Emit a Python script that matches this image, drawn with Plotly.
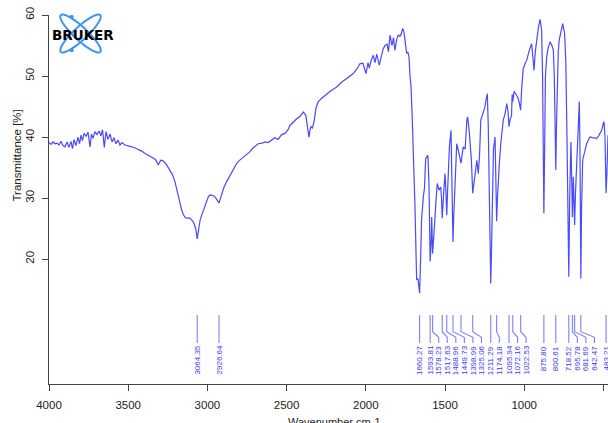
import math
import plotly.graph_objects as go

# FT-IR spectrum: wavenumber (cm-1) and transmittance (%)
wavenumber = [
    4000, 3987, 3975, 3962, 3949, 3937, 3924, 3912, 3899, 3886, 3874, 3861, 3852, 3842,
    3830, 3817, 3807, 3798, 3789, 3779, 3766, 3754, 3741, 3732, 3722, 3710, 3697, 3684,
    3672, 3662, 3651, 3640, 3628, 3615, 3602, 3590, 3577, 3564, 3552, 3539, 3520, 3501,
    3478, 3457, 3436, 3415, 3394, 3373, 3352, 3337, 3325, 3310, 3295, 3280, 3261, 3236,
    3220, 3205, 3194, 3184, 3173, 3162, 3152, 3141, 3125, 3110, 3099, 3089, 3080, 3072,
    3064.35, 3055, 3046, 3036, 3026, 3015, 3004, 2994, 2984, 2973, 2963, 2952, 2941,
    2926.64, 2918, 2909, 2895, 2878, 2864, 2847, 2832, 2815, 2801, 2783, 2763, 2731,
    2712, 2679, 2655, 2636, 2617, 2605, 2586, 2573, 2554, 2531, 2510, 2491, 2479, 2460,
    2436, 2415, 2395, 2379, 2371, 2359, 2352, 2346, 2337, 2327, 2314, 2300, 2277, 2247,
    2220, 2184, 2157, 2121, 2100, 2079, 2055, 2037, 2018, 2008, 1999, 1986, 1978, 1967,
    1953, 1942, 1931, 1915, 1901, 1891, 1879, 1866, 1857, 1847, 1835, 1825, 1816, 1805,
    1795, 1784, 1775, 1767, 1759, 1749, 1742, 1734, 1727, 1721, 1715, 1708, 1700, 1696,
    1690, 1683, 1679, 1671, 1664, 1660.27, 1652, 1648, 1637, 1630, 1622, 1608, 1601,
    1593.81, 1588, 1584, 1578.23, 1572, 1563, 1557, 1549, 1538, 1527, 1522, 1517.63,
    1507, 1500, 1494, 1488.96, 1484, 1479, 1472, 1462, 1456, 1449.73, 1445, 1437, 1426,
    1414, 1405, 1398.99, 1385, 1373, 1362, 1357, 1346, 1339, 1333, 1325.06, 1319, 1313,
    1299, 1290, 1282, 1274, 1259, 1248, 1242, 1233, 1227, 1220, 1216, 1211.29, 1206,
    1200, 1194, 1184, 1179, 1174.18, 1169, 1163, 1156, 1148, 1140, 1132, 1121, 1110,
    1102, 1095.94, 1088, 1080, 1076, 1072.16, 1064, 1052, 1040, 1030, 1022.53, 1016,
    1006, 995, 984, 970, 953, 945, 938, 930, 921, 910, 900, 890, 884, 880, 875.80, 871,
    866, 858, 850, 837, 825, 816, 810, 805, 800.61, 796, 790, 785, 779, 768, 757, 745,
    737, 730, 724, 718.52, 713, 705, 700, 695.78, 690, 685, 681.69, 676, 665, 658, 652,
    648, 645, 642.47, 638, 631, 618, 606, 595, 585, 570, 555, 542, 530, 520, 511, 500,
    496, 490, 486, 483.21, 478, 474, 471,
]
transmittance = [
    39.1, 38.8, 39.2, 38.9, 39.0, 38.7, 39.3, 38.6, 38.4, 39.2, 38.3, 39.3, 38.1, 39.6,
    38.6, 40.0, 38.9, 40.3, 39.4, 40.6, 40.1, 40.8, 38.4, 40.5, 39.8, 40.9, 40.4, 41.0,
    40.2, 41.2, 38.3, 40.9, 39.6, 40.5, 39.2, 39.9, 38.9, 39.5, 38.7, 39.1, 38.7, 38.6,
    38.4, 38.2, 38.0, 37.7, 37.3, 37.0, 36.8, 36.5, 36.2, 35.4, 36.2, 36.1, 35.6, 34.6,
    33.8, 32.7, 31.5, 30.2, 29.0, 28.0, 27.3, 26.8, 26.7, 26.7, 26.4, 26.1, 25.5, 24.8,
    23.3, 25.4, 26.4, 27.2, 28.0, 28.8, 29.6, 30.2, 30.5, 30.5, 30.4, 30.2, 29.8,
    29.2, 29.9, 30.8, 31.8, 32.7, 33.4, 34.0, 34.9, 35.7, 36.1, 36.5, 37.0, 37.6,
    38.2, 38.9, 39.0, 39.2, 39.1, 39.3, 39.7, 39.9, 39.6, 40.4, 40.6, 41.2, 41.9, 42.4,
    43.0, 43.4, 44.1, 43.6, 42.0, 40.0, 41.2, 41.7, 41.5, 42.5, 44.8, 45.8, 46.4, 47.1,
    47.6, 48.2, 48.9, 49.6, 50.0, 50.4, 51.2, 52.0, 52.1, 51.0, 50.4, 52.2, 51.3, 52.5,
    53.4, 52.2, 53.6, 51.8, 53.3, 54.4, 55.0, 55.2, 54.0, 56.7, 55.0, 56.3, 54.2, 56.0,
    56.7, 56.5, 57.0, 57.8, 57.2, 55.5, 53.7, 53.9, 53.1, 50.0, 48.5, 44.0, 38.4, 35.0,
    29.1, 21.0, 16.6, 16.8, 15.5, 14.4, 22.0, 26.4, 30.2, 31.5, 36.5, 37.0, 32.0,
    19.6, 22.5, 26.9, 20.9, 22.8, 26.9, 29.5, 32.4, 31.3, 31.8, 30.0, 26.7,
    31.5, 34.0, 31.0, 27.2, 31.0, 34.6, 38.5, 41.1, 33.0, 22.8, 27.0, 32.9, 38.9,
    37.6, 36.5, 35.7, 38.4, 38.0, 42.8, 43.3, 40.6, 38.0, 36.0, 30.8, 32.0, 33.0,
    36.2, 34.0, 37.0, 42.8, 44.0, 44.9, 46.0, 47.1, 42.0, 32.0, 22.0, 16.0, 22.0,
    32.0, 38.0, 40.0, 34.0, 26.2, 30.0, 34.0, 36.0, 38.9, 41.5, 42.8, 43.8, 45.5,
    44.2, 41.7, 43.0, 43.5, 47.0, 45.8, 47.5, 47.1, 46.5, 45.5, 44.4, 48.0,
    51.2, 52.0, 52.6, 54.0, 55.3, 53.0, 50.9, 54.0, 55.9, 58.0, 59.3, 57.5, 50.0, 38.0, 27.5, 38.0,
    50.0, 53.1, 54.5, 55.6, 55.0, 54.2, 50.0, 42.0, 34.6, 42.0, 50.0, 54.0, 55.9, 57.5, 58.6, 57.0,
    52.0, 40.0, 28.0, 17.1, 30.0, 39.2, 33.0, 26.9, 33.5, 30.0, 25.6, 31.0, 37.3, 42.0, 45.8,
    38.0, 25.0, 16.8, 28.0, 36.2, 37.6, 38.9, 39.5, 40.0, 39.9, 39.8, 39.8, 40.2, 40.6, 41.1, 42.3,
    42.5, 40.0, 34.0, 30.8, 34.0, 38.0, 40.3,
]

# Picked peaks (cm-1)
peak_wavenumbers = [
    3064.35, 2926.64, 1660.27, 1593.81, 1578.23, 1517.63, 1488.96, 1449.73, 1398.99,
    1325.06, 1211.29, 1174.18, 1095.94, 1072.16, 1022.53, 875.80, 800.61, 718.52,
    695.78, 681.69, 642.47, 483.21,
]

x_ticks = [4000, 3500, 3000, 2500, 2000, 1500, 1000, 500]
y_ticks = [20, 30, 40, 50, 60]

FONT = "Liberation Sans, Arial, sans-serif"
W, H = 608, 423
M_L, M_R, M_T, M_B = 49, 0, 15, 39
X_RANGE = [4000, 471]
Y_RANGE = [-0.47, 60]


def to_paper(px, py):
    """Pixel position in the page -> paper coordinates of the plot area."""
    return ((px - M_L) / (W - M_L - M_R), (H - M_B - py) / (H - M_T - M_B))


fig = go.Figure()

fig.add_trace(go.Scatter(
    x=wavenumber, y=transmittance, mode="lines",
    line=dict(color="#4a4aff", width=1.2), hoverinfo="skip", showlegend=False,
))

# Peak label leader lines: vertical at the peak, kinked over to the spread-out label slot
min_gap = 54.0
label_x = []
for i, p in enumerate(peak_wavenumbers):
    pos = p if i == 0 else min(p, label_x[-1] - min_gap)
    label_x.append(pos)

y_top, y_k1, y_k2, y_bot = 10.83, 8.10, 7.18, 6.25
lx, ly = [], []
for p, q in zip(peak_wavenumbers, label_x):
    lx += [p, p, q, q, None]
    ly += [y_top, y_k1, y_k2, y_bot, None]
fig.add_trace(go.Scatter(
    x=lx, y=ly, mode="lines", line=dict(color="#8080ff", width=1.1),
    hoverinfo="skip", showlegend=False,
))

annotations = []
for p, q in zip(peak_wavenumbers, label_x):
    annotations.append(dict(
        x=q, y=6.1, xref="x", yref="y", text=f"{p:.2f}", showarrow=False,
        textangle=-90, xanchor="center", yanchor="top",
        font=dict(family=FONT, size=8, color="#3a3aff"),
    ))

# Axis titles
tx, ty = to_paper(16.5, 156)
annotations.append(dict(
    x=tx, y=ty, xref="paper", yref="paper", text="Transmittance [%]", showarrow=False,
    textangle=-90, xanchor="center", yanchor="middle",
    font=dict(family=FONT, size=11.5, color="#222222"),
))
tx, ty = to_paper(334, 422)
annotations.append(dict(
    x=tx, y=ty, xref="paper", yref="paper", text="Wavenumber cm-1", showarrow=False,
    xanchor="center", yanchor="middle",
    font=dict(family=FONT, size=11, color="#222222"),
))

# Company logo: two crossed orbits with the name over them
shapes = []
cx, cy, a, b = 80.5, 33.5, 27, 6.5
for ang in (43, -43):
    t = math.radians(ang)
    pts = []
    for k in range(61):
        s = 2 * math.pi * k / 60
        ex, ey = a * math.cos(s), b * math.sin(s)
        px = cx + ex * math.cos(t) - ey * math.sin(t)
        py = cy + ex * math.sin(t) + ey * math.cos(t)
        pts.append(to_paper(px, py))
    path = "M " + " L ".join(f"{u:.5f},{v:.5f}" for u, v in pts) + " Z"
    shapes.append(dict(type="path", path=path, xref="paper", yref="paper",
                       line=dict(color="#3d95f5", width=2)))
for dx, dy in ((71.7, 16.7), (71.7, 50.2)):
    x0, y0 = to_paper(dx - 2, dy - 2)
    x1, y1 = to_paper(dx + 2, dy + 2)
    shapes.append(dict(type="circle", xref="paper", yref="paper", x0=x0, x1=x1, y0=y0, y1=y1,
                       fillcolor="#3d95f5", line=dict(width=0)))
tx, ty = to_paper(82.5, 34.5)
annotations.append(dict(
    x=tx, y=ty, xref="paper", yref="paper", text="<b>BRUKER</b>", showarrow=False,
    xanchor="center", yanchor="middle",
    font=dict(family="DejaVu Sans, sans-serif", size=13.5, color="#000000"),
))

axis_common = dict(
    showline=True, linecolor="#444444", linewidth=1, ticks="outside", ticklen=6,
    tickcolor="#444444", showgrid=False, zeroline=False,
    tickfont=dict(family=FONT, size=11.5, color="#222222"),
)

fig.update_layout(
    width=W, height=H,
    margin=dict(l=M_L, r=M_R, t=M_T, b=M_B),
    paper_bgcolor="white", plot_bgcolor="white",
    xaxis=dict(range=X_RANGE, tickmode="array", tickvals=x_ticks, ticklabelstandoff=4,
               **axis_common),
    yaxis=dict(range=Y_RANGE, tickmode="array", tickvals=y_ticks, tickangle=-90,
               ticklabelstandoff=3, **axis_common),
    annotations=annotations, shapes=shapes, showlegend=False,
)

fig.write_html("out.html")
